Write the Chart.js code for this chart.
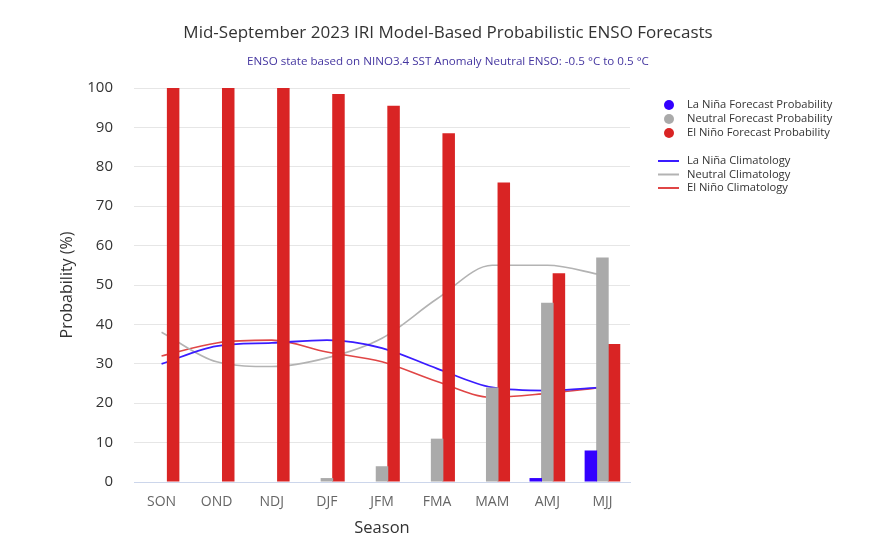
<!DOCTYPE html>
<html>
<head>
<meta charset="utf-8">
<script src="https://cdn.jsdelivr.net/npm/chart.js@4"></script>
<style>
  html, body { margin: 0; padding: 0; background: #ffffff; }
  canvas { display: block; }
</style>
</head>
<body>
<canvas id="ensoChart" width="888" height="540"></canvas>
<script>
// Three-month seasons of the forecast
const seasons = ['SON', 'OND', 'NDJ', 'DJF', 'JFM', 'FMA', 'MAM', 'AMJ', 'MJJ'];

// Model forecast probabilities (%)
const laNinaForecast  = [0, 0, 0, 0, 0, 0, 0, 1, 8];
const neutralForecast = [0, 0, 0, 1, 4, 11, 24, 45.5, 57];
const elNinoForecast  = [100, 100, 100, 98.5, 95.5, 88.5, 76, 53, 35];

// Climatological probabilities (%)
const laNinaClim  = [30, 34.5, 35.3, 36, 34, 28.8, 24, 23.2, 24];
const neutralClim = [38, 30.5, 29.3, 31.5, 36.5, 46.5, 55, 55, 52.5];
const elNinoClim  = [32, 35.3, 36, 33, 30.5, 25.5, 21.5, 22.5, 24];

const yTicks = [0, 10, 20, 30, 40, 50, 60, 70, 80, 90, 100];

const titleText = 'Mid-September 2023 IRI Model-Based Probabilistic ENSO Forecasts';
const subtitleText = 'ENSO state based on NINO3.4 SST Anomaly Neutral ENSO: -0.5 \u00B0C to 0.5 \u00B0C';
const xTitle = 'Season';
const yTitle = 'Probability (%)';

const FONT = "'Open Sans', 'Noto Sans', 'DejaVu Sans', sans-serif";

const COLORS = {
  laNinaBar: '#3300ff',
  neutralBar: '#aaaaaa',
  elNinoBar: '#d92424',
  laNinaLine: '#3a1cff',
  neutralLine: '#b3b3b3',
  elNinoLine: '#e04646'
};

// Title, subtitle, axis titles and the two-group legend
const decorations = {
  id: 'decorations',
  afterDraw(chart) {
    const ctx = chart.ctx;
    const area = chart.chartArea;
    ctx.save();
    ctx.textBaseline = 'middle';
    ctx.textAlign = 'center';

    ctx.fillStyle = '#333333';
    ctx.font = `17px ${FONT}`;
    ctx.fillText(titleText, 448, 33);

    ctx.fillStyle = '#4536a0';
    ctx.font = `11.6px ${FONT}`;
    ctx.fillText(subtitleText, 448, 62);

    ctx.fillStyle = '#333333';
    ctx.font = `16.5px ${FONT}`;
    ctx.fillText(xTitle, (area.left + area.right) / 2, 528);

    ctx.save();
    ctx.translate(67, (area.top + area.bottom) / 2);
    ctx.rotate(-Math.PI / 2);
    ctx.font = `16px ${FONT}`;
    ctx.fillText(yTitle, 0, 0);
    ctx.restore();

    // legend
    ctx.textAlign = 'left';
    ctx.font = `11.2px ${FONT}`;
    const bars = chart.data.datasets.filter(d => d.type !== 'line');
    const lines = chart.data.datasets.filter(d => d.type === 'line');
    bars.forEach((d, i) => {
      const y = 105 + i * 14;
      ctx.beginPath();
      ctx.arc(669, y, 5, 0, Math.PI * 2);
      ctx.fillStyle = d.backgroundColor;
      ctx.fill();
      ctx.fillStyle = '#333333';
      ctx.fillText(d.label, 687, y);
    });
    lines.forEach((d, i) => {
      const y = 161 + i * 13.5;
      ctx.beginPath();
      ctx.moveTo(658, y);
      ctx.lineTo(679, y);
      ctx.strokeStyle = d.borderColor;
      ctx.lineWidth = 2;
      ctx.stroke();
      ctx.fillStyle = '#333333';
      ctx.fillText(d.label, 687, y);
    });
    ctx.restore();
  }
};

const barCommon = { categoryPercentage: 0.63, barPercentage: 1.08, order: 1, borderWidth: 0 };
const lineCommon = { type: 'line', pointRadius: 0, fill: false, cubicInterpolationMode: 'monotone', borderWidth: 1.6, order: 2 };

new Chart(document.getElementById('ensoChart'), {
  type: 'bar',
  data: {
    labels: seasons,
    datasets: [
      { ...barCommon, label: 'La Ni\u00F1a Forecast Probability', data: laNinaForecast, backgroundColor: COLORS.laNinaBar },
      { ...barCommon, label: 'Neutral Forecast Probability', data: neutralForecast, backgroundColor: COLORS.neutralBar },
      { ...barCommon, label: 'El Ni\u00F1o Forecast Probability', data: elNinoForecast, backgroundColor: COLORS.elNinoBar },
      { ...lineCommon, label: 'La Ni\u00F1a Climatology', data: laNinaClim, borderColor: COLORS.laNinaLine, borderWidth: 1.8 },
      { ...lineCommon, label: 'Neutral Climatology', data: neutralClim, borderColor: COLORS.neutralLine },
      { ...lineCommon, label: 'El Ni\u00F1o Climatology', data: elNinoClim, borderColor: COLORS.elNinoLine }
    ]
  },
  options: {
    responsive: false,
    animation: false,
    layout: { padding: { top: 88, right: 258, left: 0, bottom: 0 } },
    plugins: { legend: { display: false }, tooltip: { enabled: false }, title: { display: false } },
    scales: {
      x: {
        grid: { display: false, drawTicks: false },
        border: { color: '#ccd6eb', width: 1 },
        ticks: { color: '#666666', font: { family: FONT, size: 14 }, padding: 12 },
        afterFit(scale) { scale.height = 58; }
      },
      y: {
        min: 0,
        max: 100,
        afterBuildTicks(scale) { scale.ticks = yTicks.map(v => ({ value: v })); },
        grid: { color: '#e6e6e6', drawTicks: false },
        border: { display: false },
        ticks: { color: '#333333', font: { family: FONT, size: 15 }, padding: 21 },
        afterFit(scale) { scale.width = 134; }
      }
    }
  },
  plugins: [decorations]
});
</script>
</body>
</html>
